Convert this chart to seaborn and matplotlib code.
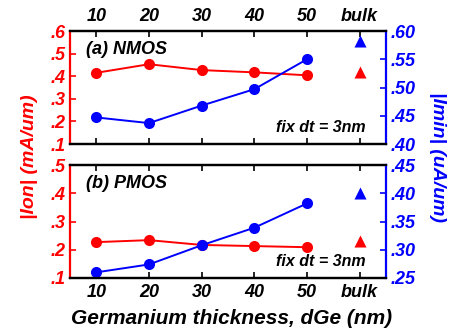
import numpy as np
import pandas as pd
import matplotlib
matplotlib.use("Agg")
import matplotlib.pyplot as plt
import seaborn as sns

categories = ["10", "20", "30", "40", "50", "bulk"]
thickness = ["10", "20", "30", "40", "50"]

nmos_ion = [0.415, 0.453, 0.427, 0.417, 0.404]
nmos_imin = [0.447, 0.437, 0.468, 0.497, 0.550]
nmos_bulk_ion = 0.418
nmos_bulk_imin = 0.583

pmos_ion = [0.227, 0.234, 0.217, 0.213, 0.209]
pmos_imin = [0.260, 0.274, 0.308, 0.339, 0.382]
pmos_bulk_ion = 0.232
pmos_bulk_imin = 0.401

left_ticks_a = [0.1, 0.2, 0.3, 0.4, 0.5, 0.6]
right_ticks_a = [0.40, 0.45, 0.50, 0.55, 0.60]
left_ticks_b = [0.1, 0.2, 0.3, 0.4, 0.5]
right_ticks_b = [0.25, 0.30, 0.35, 0.40, 0.45]

sns.set_style("ticks")
plt.rcParams["font.family"] = ["Liberation Sans", "DejaVu Sans"]
plt.rcParams["font.weight"] = "bold"
plt.rcParams["font.style"] = "italic"

RED = "#ff0000"
BLUE = "#0000ff"
TICK_FS = 13
TK = dict(fontstyle="italic", fontweight="bold", fontsize=TICK_FS)

fig = plt.figure(figsize=(4.65, 3.34), dpi=100)
L, W, H = 70 / 465, 316 / 465, 113 / 334
ax_a = fig.add_axes([L, 1 - 144 / 334, W, H])
ax_b = fig.add_axes([L, 1 - 278 / 334, W, H])

def fmt(v, nd):
    s = f"{v:.{nd}f}"
    return s[1:] if s.startswith("0") else s

def panel(ax, ion, imin, bion, bimin, lt, rt, label, top):
    axr = ax.twinx()
    pos = list(range(len(thickness)))
    df = pd.DataFrame({"x": pos, "ion": ion, "imin": imin})
    sns.lineplot(data=df, x="x", y="ion", ax=ax, color=RED, marker="o",
                 markersize=8, markeredgewidth=0, linewidth=1.4)
    sns.scatterplot(x=[len(thickness)], y=[bion], ax=ax, color=RED, marker="^",
                    s=75, linewidth=0)
    sns.lineplot(data=df, x="x", y="imin", ax=axr, color=BLUE, marker="o",
                 markersize=8, markeredgewidth=0, linewidth=1.4)
    sns.scatterplot(x=[len(thickness)], y=[bimin], ax=axr, color=BLUE, marker="^",
                    s=75, linewidth=0)
    ax.set_xlim(-0.5, 5.5)
    ax.set_ylim(lt[0], lt[-1])
    axr.set_ylim(rt[0], rt[-1])
    ax.set_yticks(lt)
    ax.set_yticklabels([fmt(v, 1) for v in lt], **TK)
    axr.set_yticks(rt)
    axr.set_yticklabels([fmt(v, 2) for v in rt], **TK)
    ax.set_xticks(range(len(categories)))
    ax.set_xticklabels(categories, **TK)
    ax.set_xlabel("")
    ax.set_ylabel("")
    axr.set_ylabel("")
    ax.tick_params(axis="x", direction="in", length=4, width=1.2, top=True,
                   bottom=True, labeltop=top, labelbottom=not top,
                   pad=4, colors="black")
    ax.tick_params(axis="y", direction="in", length=4, width=1.2, colors=RED,
                   pad=3)
    axr.tick_params(axis="y", direction="in", length=4, width=1.2, colors=BLUE,
                    pad=3)
    for a in (ax, axr):
        for s in a.spines.values():
            s.set_linewidth(1.6)
        a.spines["top"].set_color("black")
        a.spines["bottom"].set_color("black")
        a.spines["left"].set_color(RED)
        a.spines["right"].set_color(BLUE)
        a.spines["left"].set_visible(True)
        a.spines["right"].set_visible(True)
        a.spines["top"].set_visible(True)
    axr.spines["left"].set_visible(False)
    ax.spines["right"].set_visible(False)
    ax.text(0.05, 0.84, label, transform=ax.transAxes, fontsize=13,
            fontweight="bold", style="italic", color="black", va="center")
    ax.text(0.935, 0.15, "fix dt = 3nm", transform=ax.transAxes, fontsize=11.5,
            fontweight="bold", style="italic", color="black", va="center", ha="right")
    return axr

panel(ax_a, nmos_ion, nmos_imin, nmos_bulk_ion, nmos_bulk_imin,
      left_ticks_a, right_ticks_a, "(a) NMOS", True)
panel(ax_b, pmos_ion, pmos_imin, pmos_bulk_ion, pmos_bulk_imin,
      left_ticks_b, right_ticks_b, "(b) PMOS", False)

fig.text(30 / 465, 1 - 157 / 334, "|Ion| (mA/um)", rotation=90, color=RED,
         fontsize=14, fontweight="bold", style="italic", ha="center", va="center")
fig.text(437 / 465, 1 - 157 / 334, "|Imin| (uA/um)", rotation=-90, color=BLUE,
         fontsize=14, fontweight="bold", style="italic", ha="center", va="center")
fig.text(232 / 465, 1 - 318 / 334, "Germanium thickness, dGe (nm)", color="black",
         fontsize=15, fontweight="bold", style="italic", ha="center", va="center")

fig.savefig("out.png", dpi=100)
